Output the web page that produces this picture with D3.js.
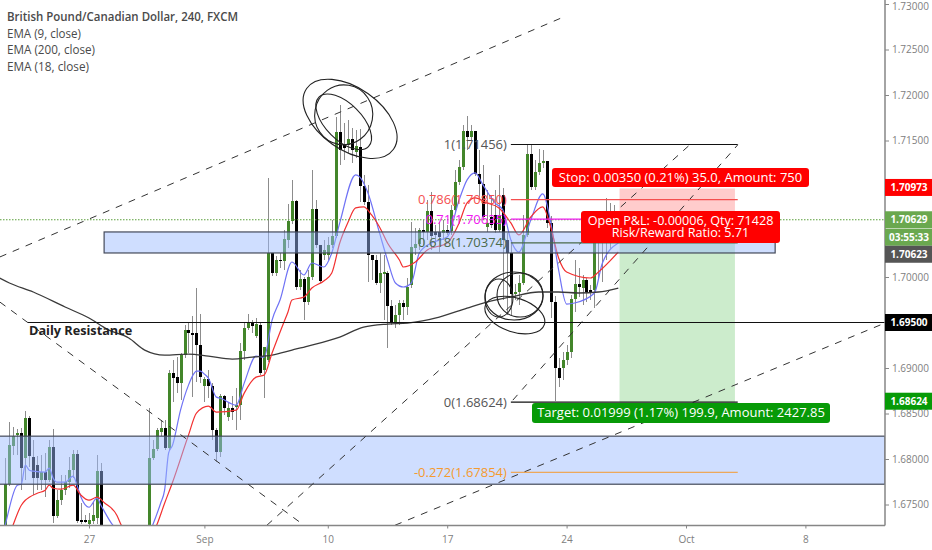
<!DOCTYPE html>
<html lang="en">
<head>
<meta charset="UTF-8">
<title>GBPCAD 240</title>
<script src="https://cdn.jsdelivr.net/npm/d3@7/dist/d3.min.js"></script>
<style>
  html, body { margin: 0; background: #fff; }
  svg { display: block; }
  text { font-family: "Open Sans", "Noto Sans", sans-serif; }
</style>
</head>
<body>
<script>
// candles, bar 0 is the leftmost bar, bars 25-35 sit below the visible range
const opens = [1.67239,1.67723,1.68141,1.68262,1.68284,1.68009,1.68449,1.6802,1.67932,1.67767,1.67855,1.67767,1.6813,1.67371,1.67547,1.67657,1.67745,1.67877,1.68053,1.67327,1.67327,1.67283,1.67316,1.67349,1.67866,
  1.6721,1.6712,1.6709,1.6714,1.6708,1.6704,1.6710,1.6706,1.6700,1.6704,1.6698,
  1.67217,1.68009,1.68108,1.68295,1.68339,1.68119,1.68944,1.689,1.68834,1.69142,1.69417,1.69384,1.69384,1.69252,1.68801,1.68878,1.68801,1.68317,1.68075,1.68691,1.6846,1.68559,1.6857,1.68592,1.69186,1.69439,1.69505,1.69351,1.69472,1.68977,
  1.69087,1.70264,1.70044,1.70187,1.70176,1.70407,1.70616,1.70836,1.6989,1.69978,1.69725,1.7,1.70748,1.70352,1.70242,1.70242,1.70352,1.70451,1.71595,1.71452,1.71452,1.71518,1.71375,1.7143,1.71001,1.70825,1.70242,1.70187,1.69934,1.70033,
  1.70044,1.69681,1.69505,1.69582,1.69714,1.6967,1.69912,1.70319,1.70363,1.70517,1.70495,1.70726,1.70495,1.70495,1.70484,1.70517,1.70506,1.70737,1.71045,1.7121,1.71606,1.7154,1.71606,1.71133,1.71023,1.7055,1.7066,1.70682,1.70517,
  1.70902,1.70407,1.70264,1.69813,1.69835,1.69934,1.70462,1.71353,1.7099,1.71155,1.71254,1.71276,1.70594,1.69725,1.68999,1.68999,1.69087,1.69175,1.69758,1.69923,1.69879,1.69967,1.69857,1.69857,1.70374,1.70539,1.70539,1.70572,1.70539];
const highs = [1.68009,1.68405,1.6835,1.68328,1.68339,1.68526,1.68471,1.68207,1.68031,1.68042,1.68064,1.68207,1.68328,1.67657,1.67822,1.67822,1.6802,1.68097,1.68097,1.67514,1.67382,1.67404,1.67525,1.68042,1.67954,
  1.6724,1.6722,1.6718,1.6722,1.6716,1.6714,1.6718,1.6712,1.6710,1.6712,1.6708,
  1.68559,1.68207,1.68339,1.68427,1.68427,1.68977,1.69087,1.6912,1.69164,1.69472,1.69505,1.69571,1.69879,1.69593,1.689,1.68977,1.68834,1.68339,1.68713,1.68702,1.68614,1.68691,1.68779,1.69274,1.69505,1.69593,1.69527,1.69549,1.69494,1.6923,
  1.71089,1.70264,1.70231,1.70264,1.70517,1.70803,1.71067,1.7085,1.70077,1.7,1.70077,1.71177,1.70847,1.70352,1.70407,1.7044,1.70627,1.7176,1.71892,1.71694,1.71727,1.71639,1.71617,1.71628,1.71122,1.71012,1.70242,1.70242,1.70264,1.70242,
  1.70066,1.69747,1.69692,1.69747,1.69747,1.69989,1.70605,1.70539,1.70539,1.70627,1.70847,1.70935,1.70572,1.70605,1.70627,1.70572,1.70792,1.71177,1.71287,1.71672,1.71771,1.71672,1.71606,1.71397,1.71232,1.70957,1.70902,1.70957,1.71122,
  1.70979,1.70484,1.70407,1.69923,1.70022,1.70682,1.71463,1.71463,1.71287,1.71408,1.71397,1.71276,1.70671,1.69791,1.69109,1.69175,1.69252,1.69802,1.70187,1.70099,1.70022,1.69989,1.69912,1.70539,1.70572,1.70605,1.70869,1.70814,1.70792];
const lows = [1.67239,1.67701,1.68042,1.68042,1.67657,1.67767,1.6791,1.67602,1.67657,1.67657,1.6758,1.67745,1.67294,1.67349,1.67492,1.67602,1.67679,1.67789,1.67294,1.67283,1.67294,1.67261,1.67283,1.67283,1.67184,
  1.6708,1.6704,1.6702,1.6706,1.6700,1.6698,1.6704,1.6696,1.6692,1.6696,1.6692,
  1.67195,1.67987,1.68086,1.68251,1.68097,1.68097,1.68625,1.68724,1.68647,1.69109,1.69164,1.6868,1.68845,1.68834,1.68625,1.68669,1.68207,1.67965,1.6802,1.68482,1.68416,1.68427,1.68317,1.68427,1.69087,1.69417,1.69384,1.69329,1.68922,1.68669,
  1.69065,1.70011,1.70011,1.70099,1.70077,1.70319,1.70583,1.69857,1.69857,1.69527,1.69692,1.69967,1.70319,1.69934,1.70187,1.70187,1.70319,1.70429,1.71232,1.71287,1.71364,1.71254,1.71309,1.70825,1.70792,1.69945,1.69967,1.69912,1.69824,1.69527,
  1.69219,1.69472,1.69439,1.69472,1.69527,1.69582,1.69879,1.70242,1.70297,1.70352,1.70407,1.70297,1.70352,1.70275,1.70407,1.70462,1.70462,1.70704,1.71012,1.71177,1.71397,1.71507,1.71111,1.70847,1.70627,1.70495,1.70539,1.70484,1.70495,
  1.69747,1.69582,1.69582,1.69747,1.69692,1.69912,1.7044,1.70957,1.70957,1.71122,1.71199,1.70539,1.69549,1.68636,1.6879,1.68867,1.69032,1.69109,1.69615,1.6978,1.69692,1.69725,1.69747,1.69659,1.69967,1.69945,1.70187,1.70297,1.70407];
const closes = [1.67723,1.68152,1.68251,1.68284,1.67899,1.68449,1.68031,1.67789,1.67789,1.67855,1.67767,1.6813,1.67371,1.67547,1.67657,1.67745,1.67877,1.68053,1.67316,1.67305,1.67305,1.67327,1.67382,1.67866,1.67217,
  1.6712,1.6709,1.6714,1.6708,1.6704,1.6710,1.6706,1.6700,1.6704,1.6698,1.6702,
  1.68009,1.68108,1.68317,1.68339,1.68119,1.68944,1.68889,1.68834,1.69142,1.69417,1.69384,1.69362,1.69252,1.689,1.68878,1.68801,1.68317,1.68075,1.68691,1.68559,1.68559,1.68515,1.68592,1.69186,1.69439,1.69505,1.69461,1.69483,1.68944,1.6923,
  1.70264,1.70044,1.70187,1.70176,1.70418,1.70616,1.70836,1.6989,1.69978,1.69725,1.7,1.70748,1.70352,1.69956,1.70297,1.70352,1.70451,1.71595,1.71397,1.71419,1.71518,1.71397,1.71441,1.71001,1.70825,1.70242,1.70187,1.69934,1.70044,1.70055,
  1.69681,1.69505,1.69582,1.69714,1.6967,1.6989,1.7033,1.70363,1.70517,1.70495,1.70726,1.70451,1.70462,1.7044,1.70517,1.70484,1.70737,1.71045,1.7121,1.71606,1.7154,1.71606,1.71133,1.71023,1.7066,1.70594,1.70572,1.70517,1.70682,
  1.70407,1.70264,1.69813,1.69835,1.69934,1.70462,1.71353,1.7099,1.71155,1.71254,1.71276,1.70594,1.69725,1.68999,1.68889,1.69087,1.69175,1.69758,1.69923,1.6989,1.69967,1.69835,1.69835,1.70374,1.70484,1.70462,1.70627,1.70517,1.70629];

const ema9Bars = [-1,0,3,4,5,6,7,10,11,12,13,15,17,18,19,21,23,24,27,30,33,35,36,37,39,40,41,42,44,46,47,48,49,50,51,53,54,58,60,63,65,67,69,72,75,77,80,82,84,88,89,91,94,96,98,100,102,104,107,111,114,116,118,120,123,125,127,129,132,135,137,139,141,143,148,150,154];
const ema9 = [1.67107,1.67283,1.67712,1.67723,1.67932,1.67877,1.67866,1.67855,1.67899,1.67789,1.67745,1.67745,1.67811,1.67712,1.6758,1.6747,1.67569,1.67492,1.67272,1.67162,1.67052,1.67052,1.67162,1.67272,1.67514,1.67657,1.68064,1.68152,1.68537,1.68812,1.68911,1.68966,1.68966,1.68933,1.68889,1.6868,1.68669,1.68592,1.68834,1.69131,1.6912,1.69527,1.69747,1.70165,1.70022,1.70154,1.7011,1.70264,1.70594,1.71122,1.711,1.70935,1.70484,1.70187,1.69934,1.6989,1.69934,1.70264,1.70374,1.7044,1.70847,1.71067,1.71144,1.71012,1.70814,1.70737,1.70407,1.70275,1.70627,1.70913,1.70605,1.70077,1.69703,1.69714,1.69824,1.70154,1.70374];
const ema18Bars = [1,2,4,5,6,8,10,11,12,14,17,19,21,23,25,28,29,31,34,36,38,40,42,46,48,51,53,58,60,63,65,67,70,71,72,75,77,80,82,84,86,88,90,92,94,96,99,100,103,106,111,114,116,118,121,124,127,129,132,135,137,139,141,147,149,154];
const ema18 = [1.67162,1.67283,1.67492,1.67547,1.6758,1.67624,1.67657,1.67712,1.67679,1.67668,1.67712,1.67602,1.67547,1.6758,1.67514,1.67382,1.67283,1.67162,1.67052,1.67107,1.67272,1.67514,1.67745,1.68262,1.68504,1.68581,1.68515,1.68537,1.68724,1.689,1.68922,1.69164,1.69505,1.69615,1.69747,1.6978,1.69879,1.69956,1.70044,1.70374,1.70594,1.70759,1.7077,1.70682,1.7055,1.70374,1.70187,1.7011,1.70165,1.70297,1.70374,1.70594,1.70814,1.70869,1.70814,1.70759,1.70594,1.70462,1.7066,1.7077,1.7055,1.70209,1.70055,1.69989,1.70055,1.70275];
const ema200Bars = [-2,1,7,15,21,26,31,35,40,46,51,57,62,67,72,76,84,90,96,101,109,116,121,127,134,139,144,149,154];
const ema200 = [1.7,1.69934,1.69835,1.6967,1.69549,1.69417,1.69329,1.69197,1.69142,1.69153,1.69131,1.69098,1.6912,1.69142,1.69197,1.69241,1.6934,1.6945,1.69483,1.69494,1.6956,1.69659,1.69725,1.6978,1.69835,1.69835,1.69824,1.69835,1.69879];

// time axis
const tickBars = [21,50,81,111,141,171,201];
const tickLabels = ["27","Sep","10","17","24","Oct","8"];
// 1.71, 1.705 and 1.695 sit under the price tags, so they are not listed
const priceTicks = [1.73,1.725,1.72,1.715,1.7,1.69,1.685,1.68,1.675];

// drawings on the chart
const trendStartBars = [-1.4,-1.4,65.7,127.5,97.9];
const trendStartPrices = [1.7022,1.69725,1.67272,1.68647,1.67272];
const trendEndBars = [139.8,74,172.5,184,221];
const trendEndPrices = [1.72849,1.67305,1.71474,1.71452,1.69494];

const fibTexts = ["1(1.71456)","0.786(1.70850)","0.71(1.70635)","0.618(1.70374)","0(1.68624)","-0.272(1.67854)"];
const fibPrices = [1.71456,1.7085,1.70635,1.70374,1.68624,1.67854];
const fibColors = ["#555555","#f44f4f","#f018f0","#4a6a4a","#555555","#f59a2e"];

const zoneBars = [[24.8,193.4],[-2,221]];
const zonePrices = [[1.70495,1.70264],[1.68251,1.67723]];

const ringBars = [86.6,85,85,127.8,129.3,128,124];
const ringPrices = [1.71738,1.71782,1.71705,1.69791,1.69802,1.69582,1.69769];
const ringRx = [53,29,35,29,23,31,14];
const ringRy = [31,30,18,24,22,17,19];
const ringTilt = [35,10,45,0,0,18,0];

const resistancePrice = 1.695;
const lastPrice = 1.70629;
const stopPrice = 1.70973;
const entryPrice = 1.70623;
const targetPrice = 1.68624;

const width = 932, height = 550;
const axisX = 885, axisY = 525.5;

let svg = d3.select('body').append('svg')
    .attr('width', width)
    .attr('height', height);

let x = d3.scaleLinear().domain([0, 221]).range([5.4, 885]);
let y = d3.scaleLinear().domain([1.73, 1.675]).range([4, 504.5]);

svg.append('clipPath').attr('id', 'plot')
    .append('rect').attr('width', axisX).attr('height', axisY);

let plot = svg.append('g').attr('clip-path', 'url(#plot)');

/* candles */
let bars = plot.append('g').attr('shape-rendering', 'crispEdges')
    .selectAll('g').data(d3.range(opens.length)).enter().append('g');
bars.append('line')
    .attr('x1', i => Math.round(x(i)) + 0.5).attr('x2', i => Math.round(x(i)) + 0.5)
    .attr('y1', i => y(highs[i])).attr('y2', i => y(lows[i]))
    .attr('stroke', '#8c8c8c');
bars.append('rect')
    .attr('x', i => Math.round(x(i)) - 1)
    .attr('width', 3)
    .attr('y', i => y(Math.max(opens[i], closes[i])))
    .attr('height', i => Math.max(1, Math.abs(y(opens[i]) - y(closes[i]))))
    .attr('fill', i => closes[i] >= opens[i] ? '#43862a' : '#000');

/* ema */
let emaLine = d3.line().x(d => x(d[0])).y(d => y(d[1])).curve(d3.curveMonotoneX);
plot.append('path').datum(d3.zip(ema9Bars, ema9)).attr('d', emaLine)
    .attr('fill', 'none').attr('stroke', '#6f72f5').attr('stroke-width', 1.2);
plot.append('path').datum(d3.zip(ema200Bars, ema200)).attr('d', emaLine)
    .attr('fill', 'none').attr('stroke', '#3a3a3a').attr('stroke-width', 1.3);
plot.append('path').datum(d3.zip(ema18Bars, ema18)).attr('d', emaLine)
    .attr('fill', 'none').attr('stroke', '#f23030').attr('stroke-width', 1.2);

/* long position box */
let boxLeft = x(154.3), boxRight = x(183.3);
plot.append('rect').attr('x', boxLeft).attr('width', boxRight - boxLeft)
    .attr('y', y(stopPrice)).attr('height', y(entryPrice) - y(stopPrice))
    .attr('fill', 'rgba(255,0,0,0.2)');
plot.append('rect').attr('x', boxLeft).attr('width', boxRight - boxLeft)
    .attr('y', y(entryPrice)).attr('height', y(targetPrice) - y(entryPrice))
    .attr('fill', 'rgba(0,160,0,0.2)');

/* zones */
plot.selectAll('.zone').data(zoneBars).enter().append('rect')
    .attr('class', 'zone')
    .attr('x', d => x(d[0])).attr('width', d => x(d[1]) - x(d[0]))
    .attr('y', (d, i) => y(zonePrices[i][0]))
    .attr('height', (d, i) => y(zonePrices[i][1]) - y(zonePrices[i][0]))
    .attr('fill', 'rgba(154,187,255,0.48)')
    .attr('stroke', '#444a5a').attr('stroke-width', 1.2);

/* last price dotted line */
plot.append('line').attr('x1', 0).attr('x2', axisX)
    .attr('y1', y(lastPrice)).attr('y2', y(lastPrice))
    .attr('stroke', '#5a9e3a').attr('stroke-dasharray', '1.5,1.5');

/* trend lines */
plot.selectAll('.trend').data(trendStartBars).enter().append('line')
    .attr('class', 'trend')
    .attr('x1', d => x(d))
    .attr('y1', (d, i) => y(trendStartPrices[i]))
    .attr('x2', (d, i) => x(trendEndBars[i]))
    .attr('y2', (d, i) => y(trendEndPrices[i]))
    .attr('stroke', '#333').attr('stroke-width', 1).attr('stroke-dasharray', '7,7');

/* resistance */
plot.append('line').attr('x1', 28).attr('x2', axisX)
    .attr('y1', y(resistancePrice)).attr('y2', y(resistancePrice))
    .attr('stroke', '#111').attr('stroke-width', 1.2);
plot.append('text').attr('x', 29).attr('y', 335)
    .attr('font-size', 12.7).attr('font-weight', 700).attr('fill', '#222')
    .text('Daily Resistance');

/* fib levels */
let fibs = plot.selectAll('.fib').data(fibPrices).enter().append('g').attr('class', 'fib');
fibs.append('line')
    .attr('x1', x(127)).attr('x2', x(184))
    .attr('y1', d => y(d)).attr('y2', d => y(d))
    .attr('stroke', (d, i) => i === 0 || i === 4 ? '#111' : fibColors[i])
    .attr('stroke-width', (d, i) => i === 5 ? 1 : 1.2);
fibs.append('text')
    .attr('x', x(126))
    .attr('y', d => y(d) + 4.5)
    .attr('text-anchor', 'end')
    .attr('font-size', 13)
    .attr('fill', (d, i) => fibColors[i])
    .text((d, i) => fibTexts[i]);

/* hand drawn rings */
plot.selectAll('.ring').data(ringBars).enter().append('ellipse')
    .attr('class', 'ring')
    .attr('rx', (d, i) => ringRx[i]).attr('ry', (d, i) => ringRy[i])
    .attr('transform', (d, i) => 'translate(' + x(d) + ',' + y(ringPrices[i]) + ') rotate(' + ringTilt[i] + ')')
    .attr('fill', 'none').attr('stroke', '#222').attr('stroke-width', 1.1);

/* position labels */
function tag(left, right, top, bottom, fill, size, lines) {
    let g = svg.append('g');
    g.append('rect').attr('x', left).attr('y', top)
        .attr('width', right - left).attr('height', bottom - top)
        .attr('rx', 3).attr('fill', fill);
    let label = g.append('text')
        .attr('y', top + 14)
        .attr('text-anchor', 'middle')
        .attr('font-size', size)
        .attr('fill', '#fff');
    lines.forEach(function (t, i) {
        label.append('tspan')
            .attr('x', (left + right) / 2)
            .attr('dy', i === 0 ? 0 : 12)
            .text(t);
    });
}
tag(552, 809, 168, 187, '#ff0000', 13, ['Stop: 0.00350 (0.21%) 35.0, Amount: 750']);
tag(581, 780, 211, 243, '#ff0000', 12.6, ['Open P&L: -0.00006, Qty: 71428', 'Risk/Reward Ratio: 5.71']);
tag(532, 830, 403, 423, '#079a07', 13, ['Target: 0.01999 (1.17%) 199.9, Amount: 2427.85']);

/* axes */
let yAxis = d3.axisRight(y).tickValues(priceTicks).tickFormat(d3.format('.5f')).tickSize(4).tickPadding(3);
let yg = svg.append('g').attr('transform', 'translate(' + axisX + ',0)').call(yAxis);
let xAxis = d3.axisBottom(x).tickValues(tickBars).tickFormat((d, i) => tickLabels[i]).tickSize(3).tickPadding(7);
let xg = svg.append('g').attr('transform', 'translate(0,' + axisY + ')').call(xAxis);
xg.select('.domain').attr('d', 'M0,0H' + axisX);
yg.select('.domain').attr('d', 'M0,0V' + axisY);
svg.selectAll('.domain').attr('stroke', '#868686').attr('stroke-width', 1.5);
svg.selectAll('.tick line').attr('stroke', '#868686');
svg.selectAll('.tick text').attr('fill', '#808080').attr('font-size', 10).attr('font-family', '"Liberation Sans", sans-serif');
// keep the top label inside the window
yg.selectAll('.tick text').filter(d => d === 1.73).attr('y', 2);

/* price tags on the axis */
const tagTexts = ['1.70973','1.70629','03:55:33','1.70623','1.69500','1.68624'];
const tagPrices = [stopPrice, lastPrice, null, entryPrice, resistancePrice, targetPrice];
const tagFills = ['#ff0000','#6aa84f','#6aa84f','#555555','#000000','#079a07'];
const tagShift = [-1, 0, 17.5, 34.5 - (y(entryPrice) - y(lastPrice)), 0, -1];
tagTexts.forEach(function (t, i) {
    let cy = (tagPrices[i] === null ? y(lastPrice) : y(tagPrices[i])) + tagShift[i];
    svg.append('rect').attr('x', axisX).attr('y', cy - 8.5)
        .attr('width', width - axisX).attr('height', 17).attr('fill', tagFills[i]);
    svg.append('text').attr('x', 909).attr('y', cy + 3.6)
        .attr('text-anchor', 'middle').attr('font-size', 10).attr('font-weight', 700)
        .attr('font-family', '"Liberation Sans", sans-serif')
        .attr('fill', '#fff').text(t);
});

/* legend */
const legendTexts = ['British Pound/Canadian Dollar, 240, FXCM','EMA (9, close)','EMA (200, close)','EMA (18, close)'];
const legendWidths = [231,74,88,82];
svg.selectAll('.legend').data(legendTexts).enter().append('text')
    .attr('class', 'legend')
    .attr('x', 7)
    .attr('y', (d, i) => 21 + i * 16.6)
    .attr('font-size', 13)
    .attr('textLength', (d, i) => legendWidths[i])
    .attr('lengthAdjust', 'spacingAndGlyphs')
    .attr('font-weight', (d, i) => i === 0 ? 600 : 400)
    .attr('fill', '#4a4a4a')
    .text(d => d);
</script>
</body>
</html>
